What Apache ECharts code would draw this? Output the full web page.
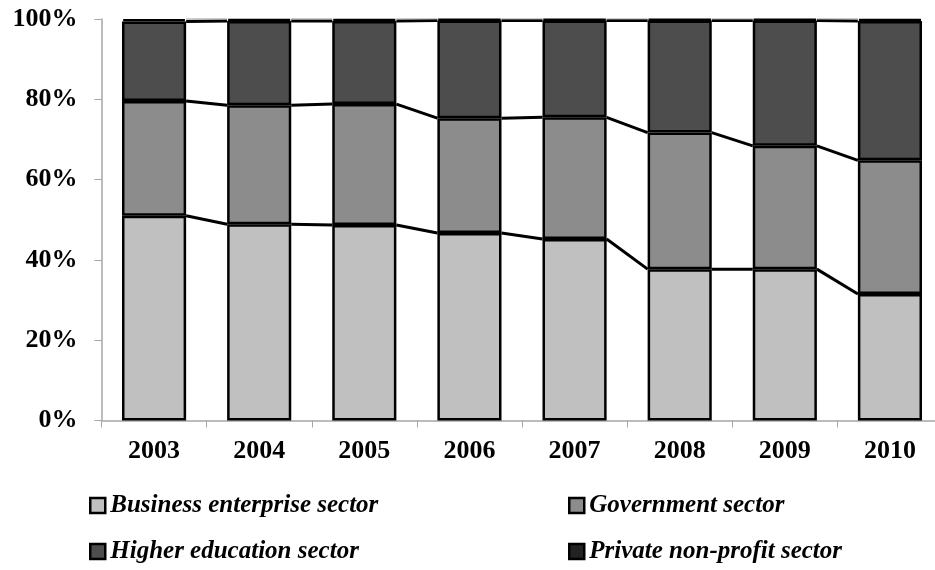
<!DOCTYPE html>
<html>
<head>
<meta charset="utf-8">
<script src="https://cdn.jsdelivr.net/npm/echarts@6/dist/echarts.min.js"></script>
<style>html,body{margin:0;padding:0;background:#fff;}#main{width:935px;height:570px;}</style>
</head>
<body>
<div id="main"></div>
<script>
const years = ['2003','2004','2005','2006','2007','2008','2009','2010'];
const business = [51.0, 48.9, 48.7, 46.7, 45.2, 37.7, 37.7, 31.5];
const government = [28.6, 29.6, 30.1, 28.6, 30.3, 34.0, 30.7, 33.3];
const higherEd = [19.8, 21.0, 20.7, 24.3, 24.1, 27.9, 31.2, 34.7];
const privateNP = [0.6, 0.5, 0.5, 0.4, 0.4, 0.4, 0.4, 0.5];
const seriesNames = ['Business enterprise sector','Government sector','Higher education sector','Private non-profit sector'];
const colors = ['#c0c0c0','#8c8c8c','#4d4d4d','#222222'];

const layers = [business, government, higherEd, privateNP];
const cum = [];
let run = years.map(() => 0);
layers.forEach(arr => { run = run.map((v, i) => v + arr[i]); cum.push(run.slice()); });

const BAR_RATIO = 0.61;
const lineData = [];
cum.forEach((c, k) => {
  for (let i = 0; i < years.length - 1; i++) lineData.push([i, c[i], c[i + 1], k]);
});

const font = 'Liberation Serif';
const chart = echarts.init(document.getElementById('main'), null, {renderer: 'canvas'});

const legendPos = [
  {left: 89, top: 493}, {left: 568, top: 493},
  {left: 89, top: 539}, {left: 568, top: 539}
];

chart.setOption({
  animation: false,
  backgroundColor: '#fff',
  grid: {left: 101.5, width: 841, top: 19, bottom: 149.5, outerBoundsMode: 'none', containLabel: false},
  legend: seriesNames.map((n, i) => ({
    data: [n], left: legendPos[i].left, top: legendPos[i].top, padding: 0,
    icon: 'rect', itemWidth: 15, itemHeight: 15, itemGap: 6,
    itemStyle: {borderColor: '#000', borderWidth: 2.5},
    textStyle: {fontFamily: font, fontStyle: 'italic', fontWeight: 'bold', fontSize: 25, color: '#000'}
  })),
  xAxis: {
    type: 'category', data: years,
    axisLine: {lineStyle: {color: '#a6a6a6', width: 1.5}},
    axisTick: {show: true, length: 7, alignWithLabel: false, lineStyle: {color: '#a6a6a6'}},
    axisLabel: {fontFamily: font, fontWeight: 'bold', fontSize: 26, color: '#000', margin: 18}
  },
  yAxis: {
    type: 'value', min: 0, max: 100, interval: 20,
    axisLine: {show: true, lineStyle: {color: '#a6a6a6', width: 1.5}},
    axisTick: {show: true, length: 7, lineStyle: {color: '#a6a6a6'}},
    splitLine: {show: false},
    axisLabel: {formatter: '{value}%', fontFamily: font, fontWeight: 'bold', fontSize: 26, color: '#000', margin: 24}
  },
  series: layers.map((arr, k) => ({
    name: seriesNames[k], type: 'bar', stack: 'total', data: arr,
    barWidth: (BAR_RATIO * 100) + '%',
    itemStyle: {color: colors[k], borderColor: '#000', borderWidth: 2.5}
  })).concat([{
    type: 'custom', z: 5, silent: true,
    encode: {x: 0, y: [1, 2]},
    data: lineData,
    renderItem: function (params, api) {
      const i = api.value(0);
      const p1 = api.coord([i, api.value(1)]);
      const p2 = api.coord([i + 1, api.value(2)]);
      const half = api.size([1, 0])[0] * BAR_RATIO / 2;
      const top = api.value(3) === 3;
      return {
        type: 'line',
        shape: {x1: p1[0] + half, y1: p1[1], x2: p2[0] - half, y2: p2[1]},
        style: {stroke: top ? '#999' : '#000', lineWidth: top ? 1 : 3}
      };
    }
  }])
});
</script>
</body>
</html>
